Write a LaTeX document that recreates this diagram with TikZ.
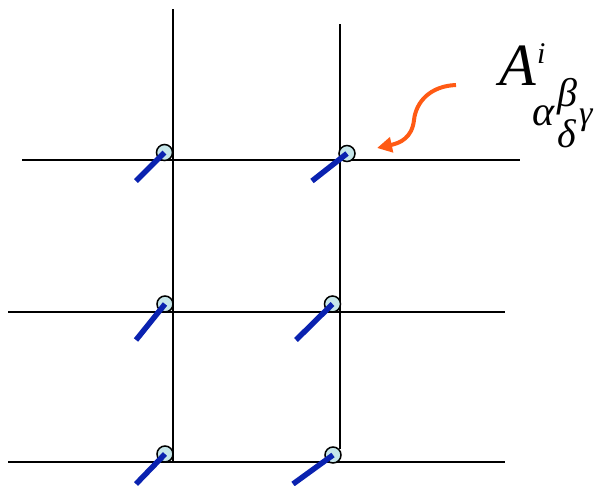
\documentclass[tikz,border=0pt]{standalone}
\usepackage{fontspec}
\setmainfont{Liberation Serif}
\usetikzlibrary{arrows.meta}
\definecolor{stickblue}{HTML}{0A22B0}
\definecolor{nodefill}{HTML}{C6E6EA}
\definecolor{arroworange}{HTML}{FF5A14}
\begin{document}
\begin{tikzpicture}[x=1pt,y=-1pt,
  gridline/.style={line width=1.5pt,black},
  site/.style={circle,draw=black,line width=1.5pt,fill=nodefill,minimum size=16pt,inner sep=0pt},
  stick/.style={line width=5.5pt,stickblue},
  lbl/.style={inner sep=0pt}]
\useasboundingbox (0,0) rectangle (602,485);
% grid line end points
\coordinate (h1a) at (22,160); \coordinate (h1b) at (520,160);
\coordinate (h2a) at (8,312);  \coordinate (h2b) at (505,312);
\coordinate (h3a) at (8,462);  \coordinate (h3b) at (505,462);
\coordinate (v1a) at (173,9);  \coordinate (v1b) at (173,462);
\coordinate (v2a) at (340,24); \coordinate (v2b) at (340,449);
\draw[gridline] (h1a) -- (h1b);
\draw[gridline] (h2a) -- (h2b);
\draw[gridline] (h3a) -- (h3b);
\draw[gridline] (v1a) -- (v1b);
\draw[gridline] (v2a) -- (v2b);
% sites
\node[site] (s11) at (164.5,152.5) {};
\node[site] (s12) at (347,153.5) {};
\node[site] (s21) at (165,304) {};
\node[site] (s22) at (332.5,304) {};
\node[site] (s31) at (165,454) {};
\node[site] (s32) at (333,455) {};
% stick ends
\coordinate (e11) at (136,181);
\coordinate (e12) at (312,181);
\coordinate (e21) at (136,340);
\coordinate (e22) at (296,340);
\coordinate (e31) at (136,484);
\coordinate (e32) at (293,484);
\draw[stick] (s11.center) -- (e11);
\draw[stick] (s12.center) -- (e12);
\draw[stick] (s21.center) -- (e21);
\draw[stick] (s22.center) -- (e22);
\draw[stick] (s31.center) -- (e31);
\draw[stick] (s32.center) -- (e32);
% label
\node[lbl,font=\itshape\fontsize{60}{60}\selectfont,anchor=base west] (A) at (499,85) {A};
\node[lbl,font=\itshape\fontsize{30}{30}\selectfont,anchor=base west] (li) at (537,63) {i};
\node[lbl,font=\itshape\fontsize{40}{40}\selectfont,anchor=west] (lb) at (557,97) {β};
\node[lbl,font=\itshape\fontsize{42}{42}\selectfont,anchor=base west] (la) at (532,125) {α};
\node[lbl,font=\itshape\fontsize{34}{34}\selectfont,anchor=west] (lg) at (579,120) {γ};
\node[lbl,font=\itshape\fontsize{40}{40}\selectfont,anchor=west] (ld) at (557,134) {δ};
% arrow
\coordinate (ar0) at (456,85);
\coordinate (arm) at (414,120);
\coordinate (tip) at (377,148);
\draw[arroworange,line width=4pt,-{Triangle[length=15pt,width=15pt]}]
  (ar0) .. controls (430,86) and (416,102) .. (arm)
  .. controls (412,138) and (400,143) .. (tip);
\end{tikzpicture}
\end{document}
